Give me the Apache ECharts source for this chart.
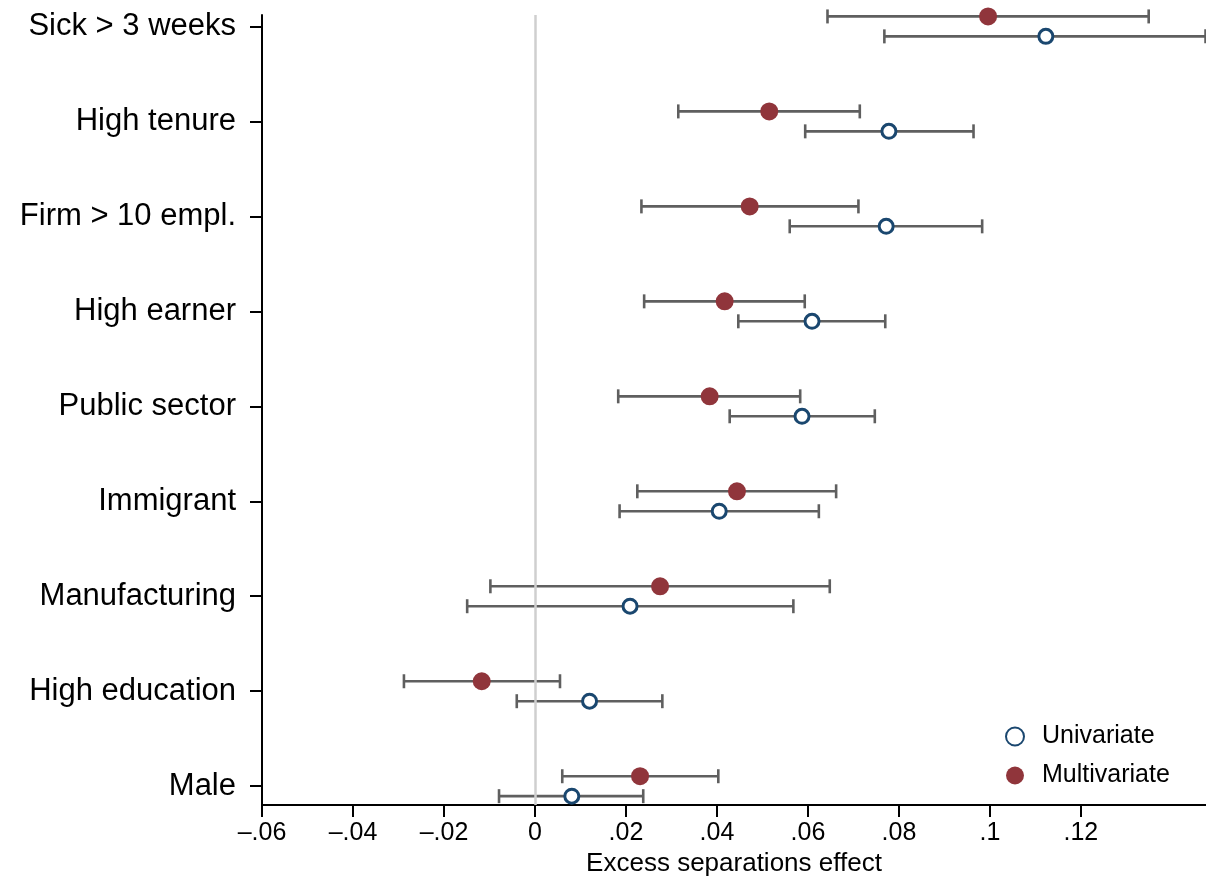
<!DOCTYPE html>
<html>
<head>
<meta charset="utf-8">
<script src="https://cdn.jsdelivr.net/npm/echarts@6/dist/echarts.min.js"></script>
<style>
html,body{margin:0;padding:0;background:#fff;overflow:hidden;}
#chart{width:1206px;height:882px;}
</style>
</head>
<body>
<div id="chart"></div>
<script>
// Categories, top to bottom
var categories = ["Sick > 3 weeks", "High tenure", "Firm > 10 empl.", "High earner", "Public sector", "Immigrant", "Manufacturing", "High education", "Male"];

// Multivariate estimates and 95% CI
var multiEst = [0.0996, 0.0515, 0.0472, 0.0417, 0.0384, 0.0444, 0.0275, -0.0117, 0.0231];
var multiLo  = [0.0643, 0.0315, 0.0234, 0.0240, 0.0183, 0.0225, -0.0098, -0.0288, 0.0060];
var multiHi  = [0.1349, 0.0714, 0.0711, 0.0593, 0.0583, 0.0662, 0.0648, 0.0055, 0.0403];

// Univariate estimates and 95% CI
var uniEst = [0.1123, 0.0778, 0.0772, 0.0609, 0.0587, 0.0405, 0.0209, 0.0120, 0.0081];
var uniLo  = [0.0768, 0.0594, 0.0560, 0.0447, 0.0428, 0.0186, -0.0149, -0.0040, -0.0079];
var uniHi  = [0.1474, 0.0964, 0.0983, 0.0770, 0.0747, 0.0624, 0.0568, 0.0280, 0.0238];

// X tick values
var xTicks = [-0.06, -0.04, -0.02, 0, 0.02, 0.04, 0.06, 0.08, 0.1, 0.12];

var OFF = 0.105; // vertical offset of the two series within a category

function rows(est, lo, hi, off) {
  return est.map(function (e, i) { return { est: e, lo: lo[i], hi: hi[i], y: i + off }; });
}
var multiRows = rows(multiEst, multiLo, multiHi, -OFF);
var uniRows = rows(uniEst, uniLo, uniHi, OFF);

function errBar(rowsArr) {
  return {
    type: 'custom',
    silent: true,
    z: 2,
    data: rowsArr.map(function (r) { return [r.lo, r.hi, r.y]; }),
    encode: { x: [0, 1], y: 2 },
    renderItem: function (params, api) {
      var y = api.value(2);
      var p1 = api.coord([api.value(0), y]);
      var p2 = api.coord([api.value(1), y]);
      var h = 7;
      var st = { stroke: '#5f5f5f', lineWidth: 2.6 };
      return {
        type: 'group',
        children: [
          { type: 'line', shape: { x1: p1[0], y1: p1[1], x2: p2[0], y2: p2[1] }, style: st },
          { type: 'line', shape: { x1: p1[0], y1: p1[1] - h, x2: p1[0], y2: p1[1] + h }, style: st },
          { type: 'line', shape: { x1: p2[0], y1: p2[1] - h, x2: p2[0], y2: p2[1] + h }, style: st }
        ]
      };
    }
  };
}

function fmtX(v) {
  var r = Math.round(v * 100) / 100;
  if (r === 0) return '0';
  var s = String(Math.abs(r)).replace(/^0/, '');
  return (r < 0 ? '\u2013' : '') + s;
}

var chart = echarts.init(document.getElementById('chart'), null, { renderer: 'canvas', width: 1206, height: 882 });
var FONT = '"Liberation Sans", Arial, Helvetica, sans-serif';

chart.setOption({
  backgroundColor: '#ffffff',
  animation: false,
  textStyle: { fontFamily: FONT, color: '#000' },
  grid: { left: 262, right: 0, top: 15, bottom: 73, containLabel: false },
  legend: {
    orient: 'vertical',
    left: 1000,
    top: 719,
    itemWidth: 18,
    itemHeight: 18,
    itemGap: 14,
    data: ['Univariate', 'Multivariate'],
    textStyle: { fontSize: 25, lineHeight: 25, color: '#000', fontFamily: FONT, padding: [0, 0, 0, 13] }
  },
  xAxis: {
    type: 'value',
    min: -0.06,
    max: 0.1475,
    name: 'Excess separations effect',
    nameLocation: 'middle',
    nameGap: 44,
    nameTextStyle: { fontSize: 26, color: '#000', fontFamily: FONT },
    axisLine: { show: true, onZero: false, lineStyle: { color: '#000', width: 2 } },
    axisTick: { show: true, length: 12, customValues: xTicks, lineStyle: { color: '#000', width: 2 } },
    axisLabel: { customValues: xTicks, fontSize: 25, color: '#000', margin: 16, formatter: fmtX },
    splitLine: { show: false }
  },
  yAxis: {
    type: 'value',
    inverse: true,
    min: -0.12,
    max: 8.199,
    axisLine: { show: true, onZero: false, lineStyle: { color: '#000', width: 2 } },
    axisTick: { show: true, length: 12, customValues: categories.map(function (c, i) { return i; }), lineStyle: { color: '#000', width: 2 } },
    axisLabel: {
      customValues: categories.map(function (c, i) { return i; }),
      fontSize: 31, color: '#000', margin: 26,
      formatter: function (v) { return categories[Math.round(v)]; }
    },
    splitLine: { show: false }
  },
  series: [
    {
      type: 'line',
      name: 'zero',
      data: [],
      silent: true,
      z: 1,
      markLine: {
        silent: true,
        symbol: ['none', 'none'],
        label: { show: false },
        lineStyle: { color: '#cfcfcf', width: 2.5, type: 'solid' },
        data: [{ xAxis: 0 }]
      }
    },
    errBar(multiRows),
    errBar(uniRows),
    {
      type: 'scatter',
      name: 'Univariate',
      z: 3,
      symbol: 'circle',
      symbolSize: 14,
      itemStyle: { color: '#ffffff', borderColor: '#1a476f', borderWidth: 3, opacity: 1 },
      data: uniRows.map(function (r) { return [r.est, r.y]; })
    },
    {
      type: 'scatter',
      name: 'Multivariate',
      z: 3,
      symbol: 'circle',
      symbolSize: 18,
      itemStyle: { color: '#90353b', opacity: 1 },
      data: multiRows.map(function (r) { return [r.est, r.y]; })
    }
  ]
});
</script>
</body>
</html>
